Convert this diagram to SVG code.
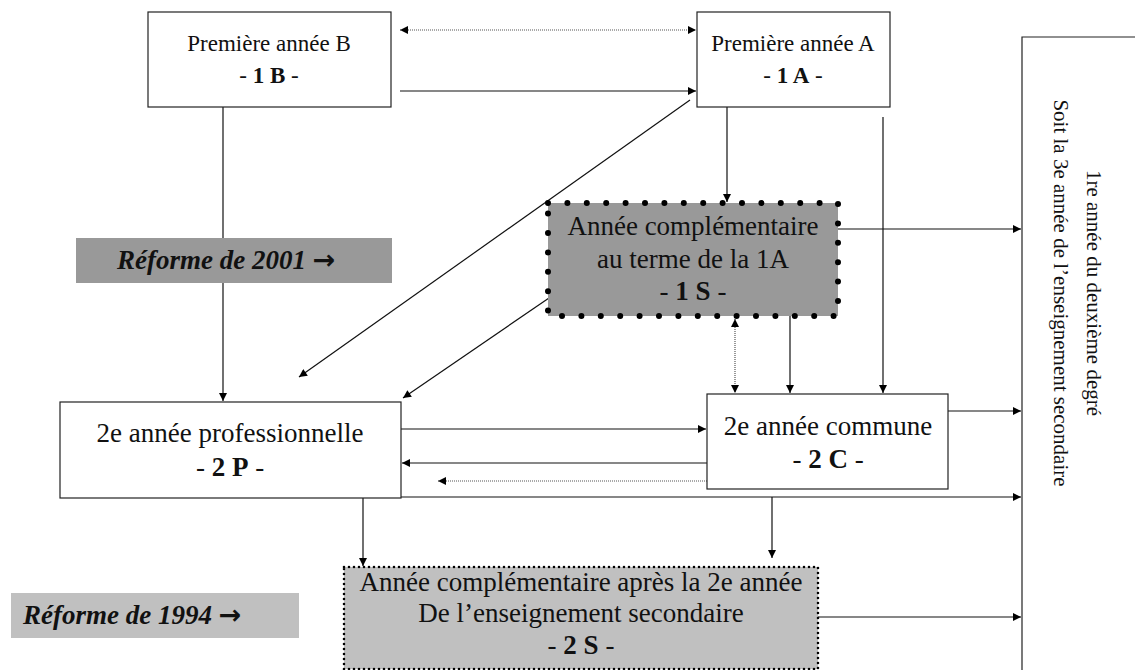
<svg xmlns="http://www.w3.org/2000/svg" width="1135" height="670" viewBox="0 0 1135 670">
<defs>
<marker id="ah" viewBox="0 0 10 10" refX="10" refY="5" markerWidth="9" markerHeight="8" markerUnits="userSpaceOnUse" orient="auto-start-reverse"><path d="M0,0 L10,5 L0,10 z" fill="#000"/></marker>
<style>
.box{fill:#fff;stroke:#222;stroke-width:1.2}
.t{font-family:"Liberation Serif",serif;font-size:27px;fill:#111;text-anchor:middle}
.s{font-size:23px}
.v{font-family:"Liberation Serif",serif;font-size:21px;fill:#111;text-anchor:middle}
.b{font-weight:bold}
.c{fill:none;stroke:#111;stroke-width:1.2}
.d{fill:none;stroke:#555;stroke-width:1.2;stroke-dasharray:1 1}
.r{font-family:"Liberation Serif",serif;font-size:27px;font-style:italic;font-weight:bold;fill:#111}
.ar{font-family:"DejaVu Sans",sans-serif;font-style:normal;font-weight:bold}
</style>
</defs>
<g id="connectors">
<line class="d" x1="400" y1="30" x2="696" y2="30" marker-start="url(#ah)" marker-end="url(#ah)"/>
<line class="c" x1="400" y1="91" x2="696" y2="91" marker-end="url(#ah)"/>
<line class="c" x1="223" y1="107" x2="223" y2="401" marker-end="url(#ah)"/>
<line class="c" x1="690" y1="100" x2="299" y2="377" marker-end="url(#ah)"/>
<line class="c" x1="727" y1="107" x2="727" y2="202" marker-end="url(#ah)"/>
<line class="c" x1="883" y1="117" x2="883" y2="393" marker-end="url(#ah)"/>
<line class="c" x1="549" y1="298" x2="403" y2="398" marker-end="url(#ah)"/>
<line class="c" x1="838" y1="229" x2="1021" y2="229" marker-end="url(#ah)"/>
<line class="d" x1="735" y1="319" x2="735" y2="393" marker-start="url(#ah)" marker-end="url(#ah)"/>
<line class="c" x1="790" y1="316" x2="790" y2="393" marker-end="url(#ah)"/>
<line class="c" x1="401" y1="429" x2="706" y2="429" marker-end="url(#ah)"/>
<line class="c" x1="707" y1="463" x2="402" y2="463" marker-end="url(#ah)"/>
<line class="d" x1="707" y1="481" x2="438" y2="481" marker-end="url(#ah)"/>
<line class="c" x1="948" y1="411" x2="1021" y2="411" marker-end="url(#ah)"/>
<line class="c" x1="400" y1="497" x2="1021" y2="497" marker-end="url(#ah)"/>
<line class="c" x1="363" y1="498" x2="363" y2="566" marker-end="url(#ah)"/>
<line class="c" x1="772" y1="497" x2="772" y2="558" marker-end="url(#ah)"/>
<line class="c" x1="818" y1="617" x2="1021" y2="617" marker-end="url(#ah)"/>
</g>
<g id="n1B">
<rect class="box" x="148" y="12" width="243" height="95"/>
<text class="t s" x="269" y="51">Première année B</text>
<text class="t s" x="269" y="83">- <tspan class="b">1 B</tspan> -</text>
</g>
<g id="n1A">
<rect class="box" x="697" y="12" width="193" height="95"/>
<text class="t s" x="793" y="51">Première année A</text>
<text class="t s" x="793" y="83">- <tspan class="b">1 A</tspan> -</text>
</g>
<g id="ref2001">
<rect x="76" y="238" width="316" height="45" fill="#999"/>
<text class="r" x="117" y="269">Réforme de 2001 <tspan class="ar">→</tspan></text>
</g>
<g id="n1S">
<rect x="548" y="203" width="290" height="113" fill="#999" stroke="#000" stroke-width="6" stroke-linecap="round" stroke-dasharray="0 19.4"/>
<text class="t" x="693" y="235">Année complémentaire</text>
<text class="t" x="693" y="268">au terme de la 1A</text>
<text class="t" x="693" y="300">- <tspan class="b">1 S</tspan> -</text>
</g>
<g id="n2P">
<rect class="box" x="60" y="402" width="341" height="96"/>
<text class="t" x="230" y="442">2e année professionnelle</text>
<text class="t" x="230" y="476">- <tspan class="b">2 P</tspan> -</text>
</g>
<g id="n2C">
<rect class="box" x="707" y="394" width="241" height="95"/>
<text class="t" x="828" y="435">2e année commune</text>
<text class="t" x="828" y="468">- <tspan class="b">2 C</tspan> -</text>
</g>
<g id="ref1994">
<rect x="11" y="593" width="288" height="45" fill="#c0c0c0"/>
<text class="r" x="23" y="624">Réforme de 1994 <tspan class="ar">→</tspan></text>
</g>
<g id="n2S">
<rect x="344" y="567" width="474" height="102" fill="#c0c0c0" stroke="#000" stroke-width="2.6" stroke-linecap="round" stroke-dasharray="0 5"/>
<text class="t" x="581" y="591">Année complémentaire après la 2e année</text>
<text class="t" x="581" y="622">De l’enseignement secondaire</text>
<text class="t" x="581" y="654">- <tspan class="b">2 S</tspan> -</text>
</g>
<g id="nDeg">
<path d="M1136,37 L1022,37 L1022,671" fill="#fff" stroke="#222" stroke-width="1.2"/>
<text class="v" transform="translate(1087,293) rotate(90)">1re année du deuxième degré</text>
<text class="v" transform="translate(1054,293) rotate(90)">Soit la 3e année de l’enseignement secondaire</text>
</g>
</svg>
